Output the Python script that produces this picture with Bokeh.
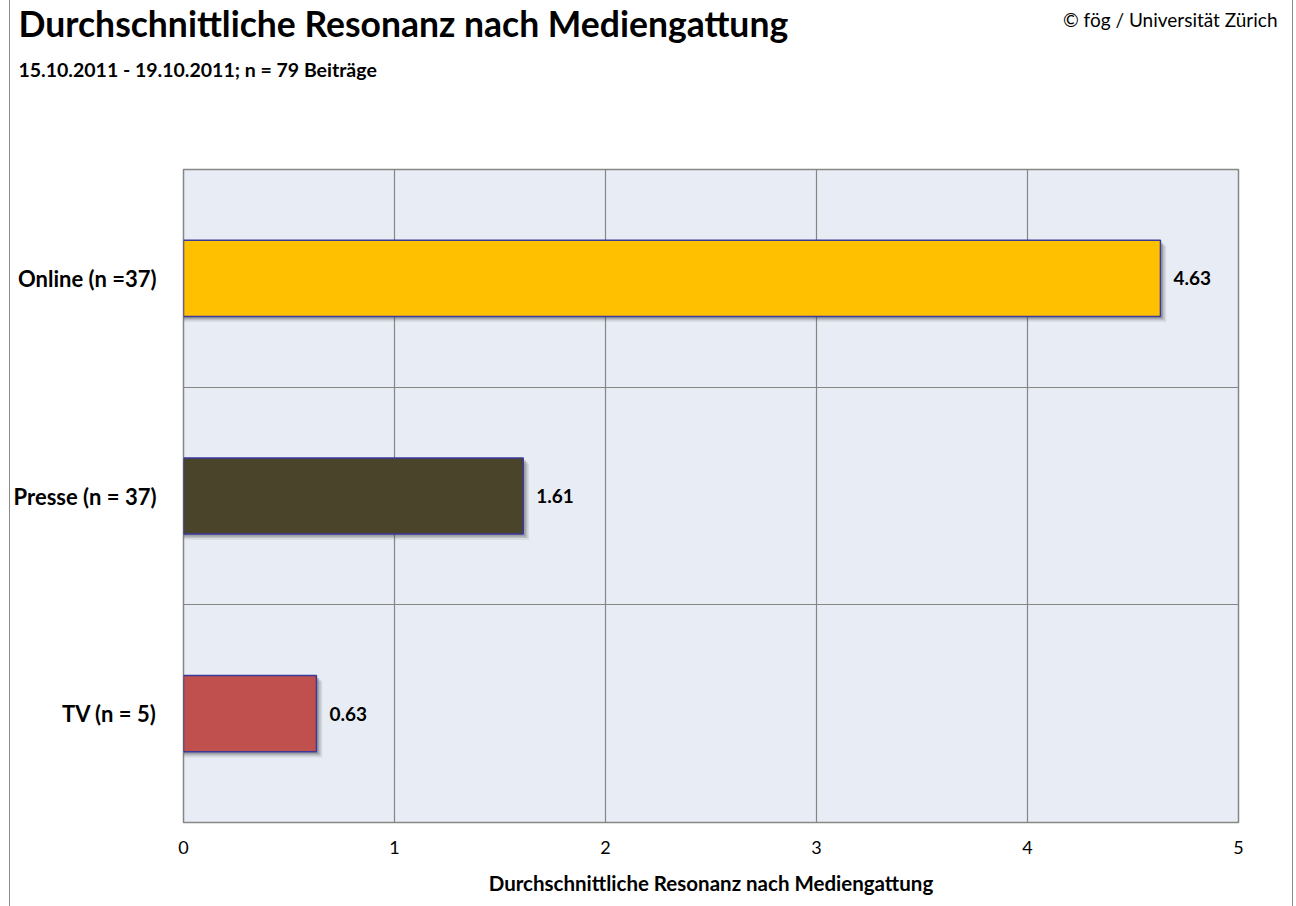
from bokeh.plotting import figure
from bokeh.models import ColumnDataSource, FixedTicker, Label, Range1d
from bokeh.layouts import column, row
from bokeh.core.properties import value
from bokeh.embed import file_html
from bokeh.resources import INLINE

title = "Durchschnittliche Resonanz nach Mediengattung"
subtitle = "15.10.2011 - 19.10.2011; n = 79 Beiträge"
credit = "© fög / Universität Zürich"
x_title = "Durchschnittliche Resonanz nach Mediengattung"

categories = ["Online (n =37)", "Presse (n = 37)", "TV (n = 5)"]
values = [4.63, 1.61, 0.63]
colors = ["#FFC000", "#4A452A", "#C0504D"]
x_ticks = [0, 1, 2, 3, 4, 5]

FONT = "Lato"
BORDER = "-1px 0 0 #8c8c8c, 1px 0 0 #8c8c8c"
n = len(categories)
pos = [n - i - 0.5 for i in range(n)]

src = ColumnDataSource(dict(
    cat=categories, val=values, color=colors, y=pos,
    lab=[f"{v:.2f}" for v in values],
))

# ---- header ----
h = figure(width=1282, height=160, output_backend="svg", toolbar_location=None,
           x_range=Range1d(0, 1), y_range=Range1d(0, 1),
           min_border=0, styles={"box-shadow": BORDER})
h.axis.visible = False
h.grid.visible = False
h.outline_line_color = None
h.background_fill_color = "white"
h.add_layout(Label(x=8, y=137, x_units="screen", y_units="screen",
                   text=title, text_font=FONT, text_font_style="bold",
                   text_font_size="35.5px", text_color="black", text_baseline="alphabetic"))
h.add_layout(Label(x=8, y=91, x_units="screen", y_units="screen",
                   text=subtitle, text_font=FONT, text_font_style="bold",
                   text_font_size="19.5px", text_color="black", text_baseline="alphabetic"))
h.add_layout(Label(x=1267, y=141, x_units="screen", y_units="screen",
                   text=credit, text_font=FONT, text_font_style="normal", text_align="right",
                   text_font_size="19px", text_color="black", text_baseline="alphabetic"))

# ---- main chart ----
p = figure(width=1282, height=746, output_backend="svg", toolbar_location=None,
           x_range=Range1d(0, 5), y_range=Range1d(0, n),
           min_border_left=172, min_border_right=54, min_border_top=9, min_border_bottom=84,
           styles={"box-shadow": BORDER})

p.background_fill_color = "#E8ECF4"
p.border_fill_color = "white"
p.outline_line_color = "#868686"
p.outline_line_width = 1.5

p.xgrid.ticker = FixedTicker(ticks=x_ticks)
p.xgrid.grid_line_color = "#868686"
p.xgrid.grid_line_width = 1.2
p.ygrid.ticker = FixedTicker(ticks=list(range(1, n)))
p.ygrid.grid_line_color = "#868686"
p.ygrid.grid_line_width = 1.2

for dx, dy, a in [(0.028, -0.026, 0.10), (0.020, -0.018, 0.18), (0.012, -0.011, 0.25)]:
    sh = ColumnDataSource(dict(y=[v + dy for v in pos], right=[v + dx for v in values]))
    p.hbar(y="y", left=0, right="right", height=0.35, source=sh,
           fill_color="#404040", fill_alpha=a, line_color=None)

p.hbar(y="y", left=0, right="val", height=0.35, source=src,
       fill_color="color", line_color="#3A3A9A", line_width=1.5)

p.text(x="val", y="y", text="lab", source=src, x_offset=13,
       text_baseline="middle", text_align="left",
       text_font=value(FONT), text_font_style="bold", text_font_size="19px",
       text_color="black")

p.xaxis.ticker = FixedTicker(ticks=x_ticks)
p.xaxis.axis_line_color = None
p.xaxis.major_tick_line_color = None
p.xaxis.minor_tick_line_color = None
p.xaxis.major_label_standoff = 12
p.xaxis.major_label_text_font = FONT
p.xaxis.major_label_text_font_size = "18px"
p.xaxis.major_label_text_color = "black"
p.xaxis.axis_label = x_title
p.xaxis.axis_label_standoff = 14
p.xaxis.axis_label_text_font = FONT
p.xaxis.axis_label_text_font_style = "bold"
p.xaxis.axis_label_text_font_size = "20.5px"
p.xaxis.axis_label_text_color = "black"

p.yaxis.ticker = FixedTicker(ticks=pos)
p.yaxis.major_label_overrides = {pp: c for pp, c in zip(pos, categories)}
p.yaxis.axis_line_color = None
p.yaxis.major_tick_line_color = None
p.yaxis.minor_tick_line_color = None
p.yaxis.major_label_standoff = 21
p.yaxis.major_label_text_font = FONT
p.yaxis.major_label_text_font_style = "bold"
p.yaxis.major_label_text_font_size = "22px"
p.yaxis.major_label_text_color = "black"

layout = column(row(h), p, spacing=0, margin=(0, 0, 0, 10))
open("out.html", "w").write(file_html(layout, INLINE))
